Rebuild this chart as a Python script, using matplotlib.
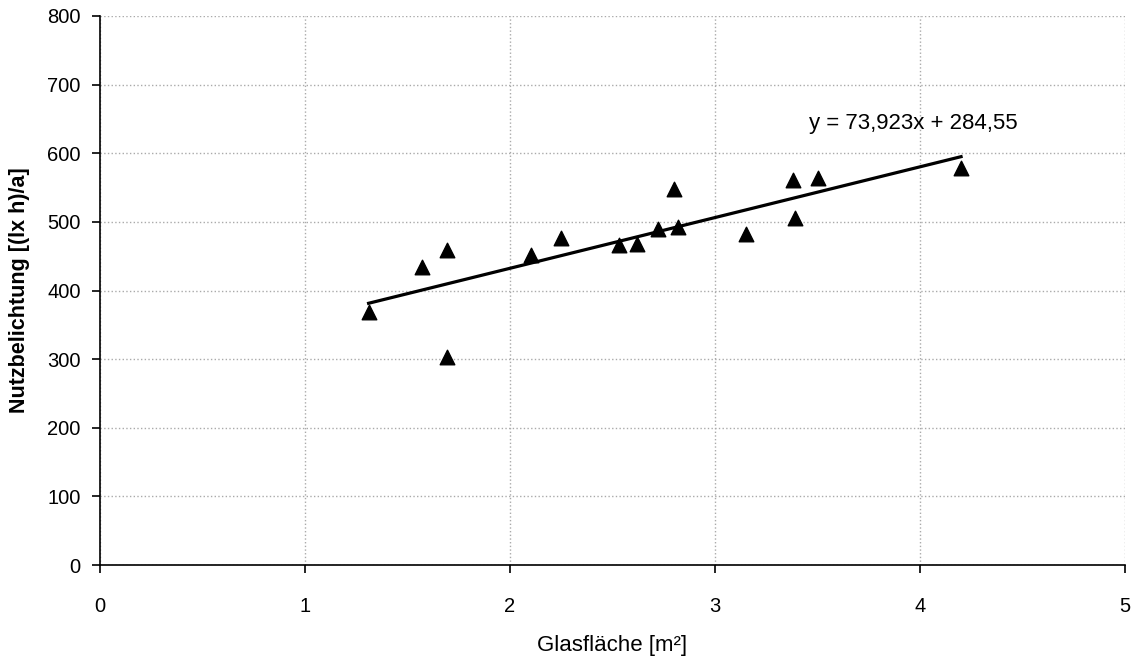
import numpy as np
import matplotlib
matplotlib.use('Agg')
import matplotlib.pyplot as plt

plt.rcParams['font.family'] = ['Liberation Sans', 'DejaVu Sans']

glasflaeche = [1.31, 1.57, 1.69, 1.69, 2.10, 2.25, 2.53, 2.62, 2.72, 2.80, 2.82,
               3.15, 3.38, 3.39, 3.50, 4.20]
nutzbelichtung = [369, 434, 459, 303, 452, 477, 466, 468, 489, 548, 492,
                  482, 561, 505, 564, 578]

# lineare Trendlinie laut Beschriftung
steigung = 73.923
achsenabschnitt = 284.55
trend_text = "y = 73,923x + 284,55"

x_ticks = [0, 1, 2, 3, 4, 5]
y_ticks = [0, 100, 200, 300, 400, 500, 600, 700, 800]

fig = plt.figure(figsize=(11.33, 6.58), dpi=100)
ax = fig.add_axes([0.0883, 0.1413, 0.9047, 0.8344])

ax.scatter(glasflaeche, nutzbelichtung, marker='^', s=110, color='black', zorder=3)

xs = np.array([min(glasflaeche), max(glasflaeche)])
ax.plot(xs, steigung * xs + achsenabschnitt, color='black', lw=2.3, zorder=2)

ax.text(3.46, 644, trend_text, fontsize=16, va='center', ha='left')

ax.set_xlim(0, 5)
ax.set_ylim(0, 800)
ax.set_xticks(x_ticks)
ax.set_yticks(y_ticks)
ax.grid(True, linestyle=':', color='#aaaaaa', lw=1)
ax.set_axisbelow(True)

for s in ['top', 'right']:
    ax.spines[s].set_visible(False)
for s in ['left', 'bottom']:
    ax.spines[s].set_color('black')
    ax.spines[s].set_linewidth(1.2)

ax.tick_params(direction='out', length=6, width=1.2, labelsize=14.5)
ax.tick_params(axis='y', pad=8)
ax.tick_params(axis='x', pad=17)

ax.set_xlabel('Glasfläche [m²]', fontsize=16, labelpad=14)
ax.set_ylabel('Nutzbelichtung [(lx h)/a]', fontsize=15.5, fontweight='bold', labelpad=12)

fig.savefig('out.png', dpi=100)
